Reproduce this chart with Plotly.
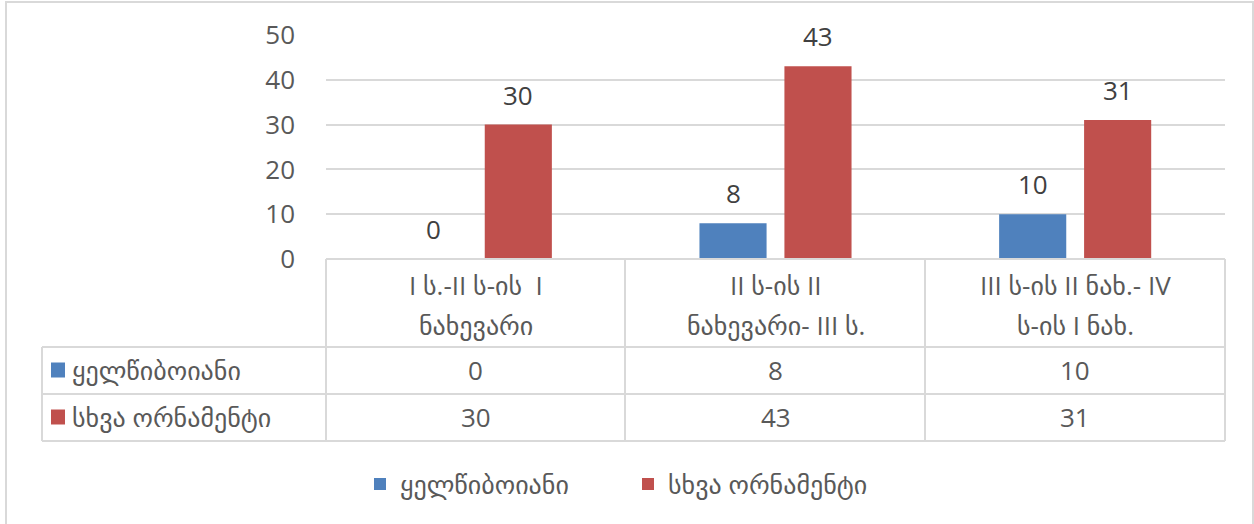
import plotly.graph_objects as go

# categories (two-line header labels) and the two series
categories = [["I ს.-II ს-ის  I", "ნახევარი"],
              ["II ს-ის II", "ნახევარი- III ს."],
              ["III ს-ის II ნახ.- IV", "ს-ის I ნახ."]]
series_names = ["ყელწიბოიანი", "სხვა ორნამენტი"]
vals_blue = [0, 8, 10]
vals_red = [30, 43, 31]
y_ticks = [0, 10, 20, 30, 40, 50]

COLORS = ["#4f81bd", "#c0504d"]
TXT = "#595959"
GRID = "#d9d9d9"
FONT = "Open Sans, DejaVu Sans, sans-serif"
FS = 26
BARGAP = 0.433

W, H = 1254, 524
L, R, T, B = 326, 1225, 35, 259  # plot area in pixels


def px_x(p):
    return (p - L) / (R - L)


def px_y(p):
    return (B - p) / (B - T)


series = [vals_blue, vals_red]
xs = list(range(len(categories)))

fig = go.Figure()
for name, vals, col in zip(series_names, series, COLORS):
    fig.add_trace(go.Bar(x=xs, y=vals, name=name,
                         marker_color=col, marker_line_width=0))

ann = []
# value labels above the bars
for j, vals in enumerate(series):
    off = (j - 0.5) * (1 - BARGAP) / 2
    for i, v in enumerate(vals):
        ann.append(dict(x=i + off, xref="x", y=v, yref="y", text=str(v),
                        showarrow=False, yanchor="bottom", yshift=10,
                        font=dict(size=FS, color="#404040", family=FONT)))

shapes = []
line = dict(color=GRID, width=2)
# horizontal table lines
for p in [347, 394, 441]:
    shapes.append(dict(type="line", xref="paper", yref="paper",
                       x0=px_x(42), x1=1, y0=px_y(p), y1=px_y(p), line=line))
shapes.append(dict(type="line", xref="paper", yref="paper",
                   x0=0, x1=1, y0=0, y1=0, line=line))
# vertical table lines
for xp in [326, 625, 925, 1225]:
    shapes.append(dict(type="line", xref="paper", yref="paper",
                       x0=px_x(xp), x1=px_x(xp), y0=0, y1=px_y(441), line=line))
shapes.append(dict(type="line", xref="paper", yref="paper",
                   x0=px_x(42), x1=px_x(42), y0=px_y(347), y1=px_y(441), line=line))
# outer chart border
shapes.append(dict(type="rect", xref="paper", yref="paper",
                   x0=px_x(6), x1=px_x(1253), y0=px_y(540), y1=px_y(2),
                   line=dict(color=GRID, width=2)))

# header cells
for i, lines in enumerate(categories):
    for k, t in enumerate(lines):
        ann.append(dict(x=i, xref="x", y=px_y(285 + 40 * k), yref="paper", text=t,
                        showarrow=False, yanchor="middle",
                        font=dict(size=FS, color=TXT, family=FONT)))
# data rows
for r, (name, vals, col) in enumerate(zip(series_names, series, COLORS)):
    yc = px_y(370 + r * 47)
    shapes.append(dict(type="rect", xref="paper", yref="paper",
                       x0=px_x(51), x1=px_x(65), y0=yc - 7.5 / 224, y1=yc + 7.5 / 224,
                       fillcolor=col, line_width=0))
    ann.append(dict(x=px_x(70), xref="paper", y=yc, yref="paper", text=name,
                    showarrow=False, xanchor="left", yanchor="middle",
                    font=dict(size=FS, color=TXT, family=FONT)))
    for i, v in enumerate(vals):
        ann.append(dict(x=i, xref="x", y=yc, yref="paper", text=str(v),
                        showarrow=False, yanchor="middle",
                        font=dict(size=FS, color=TXT, family=FONT)))

fig.update_layout(
    width=W, height=H,
    margin=dict(l=L, r=W - R, t=T, b=H - B),
    paper_bgcolor="white", plot_bgcolor="white",
    barmode="group", bargap=BARGAP, bargroupgap=0.21,
    font=dict(family=FONT, size=FS, color=TXT),
    xaxis=dict(range=[-0.5, 2.5], showticklabels=False, showgrid=False,
               zeroline=False, showline=False, ticks=""),
    yaxis=dict(range=[0, 50], tickvals=y_ticks, showgrid=True, gridcolor=GRID,
               gridwidth=2, zeroline=False, showline=False, ticks="",
               ticklabelstandoff=30, tickfont=dict(size=FS, color=TXT)),
    showlegend=True,
    legend=dict(orientation="h", x=px_x(360), xanchor="left", y=px_y(484),
                yanchor="middle", font=dict(size=FS, color=TXT), itemwidth=30,
                entrywidth=223, entrywidthmode="pixels", traceorder="normal"),
    shapes=shapes, annotations=ann,
)

fig.write_html("out.html", config={"displayModeBar": False},
               post_script="document.body.style.margin='0';")
